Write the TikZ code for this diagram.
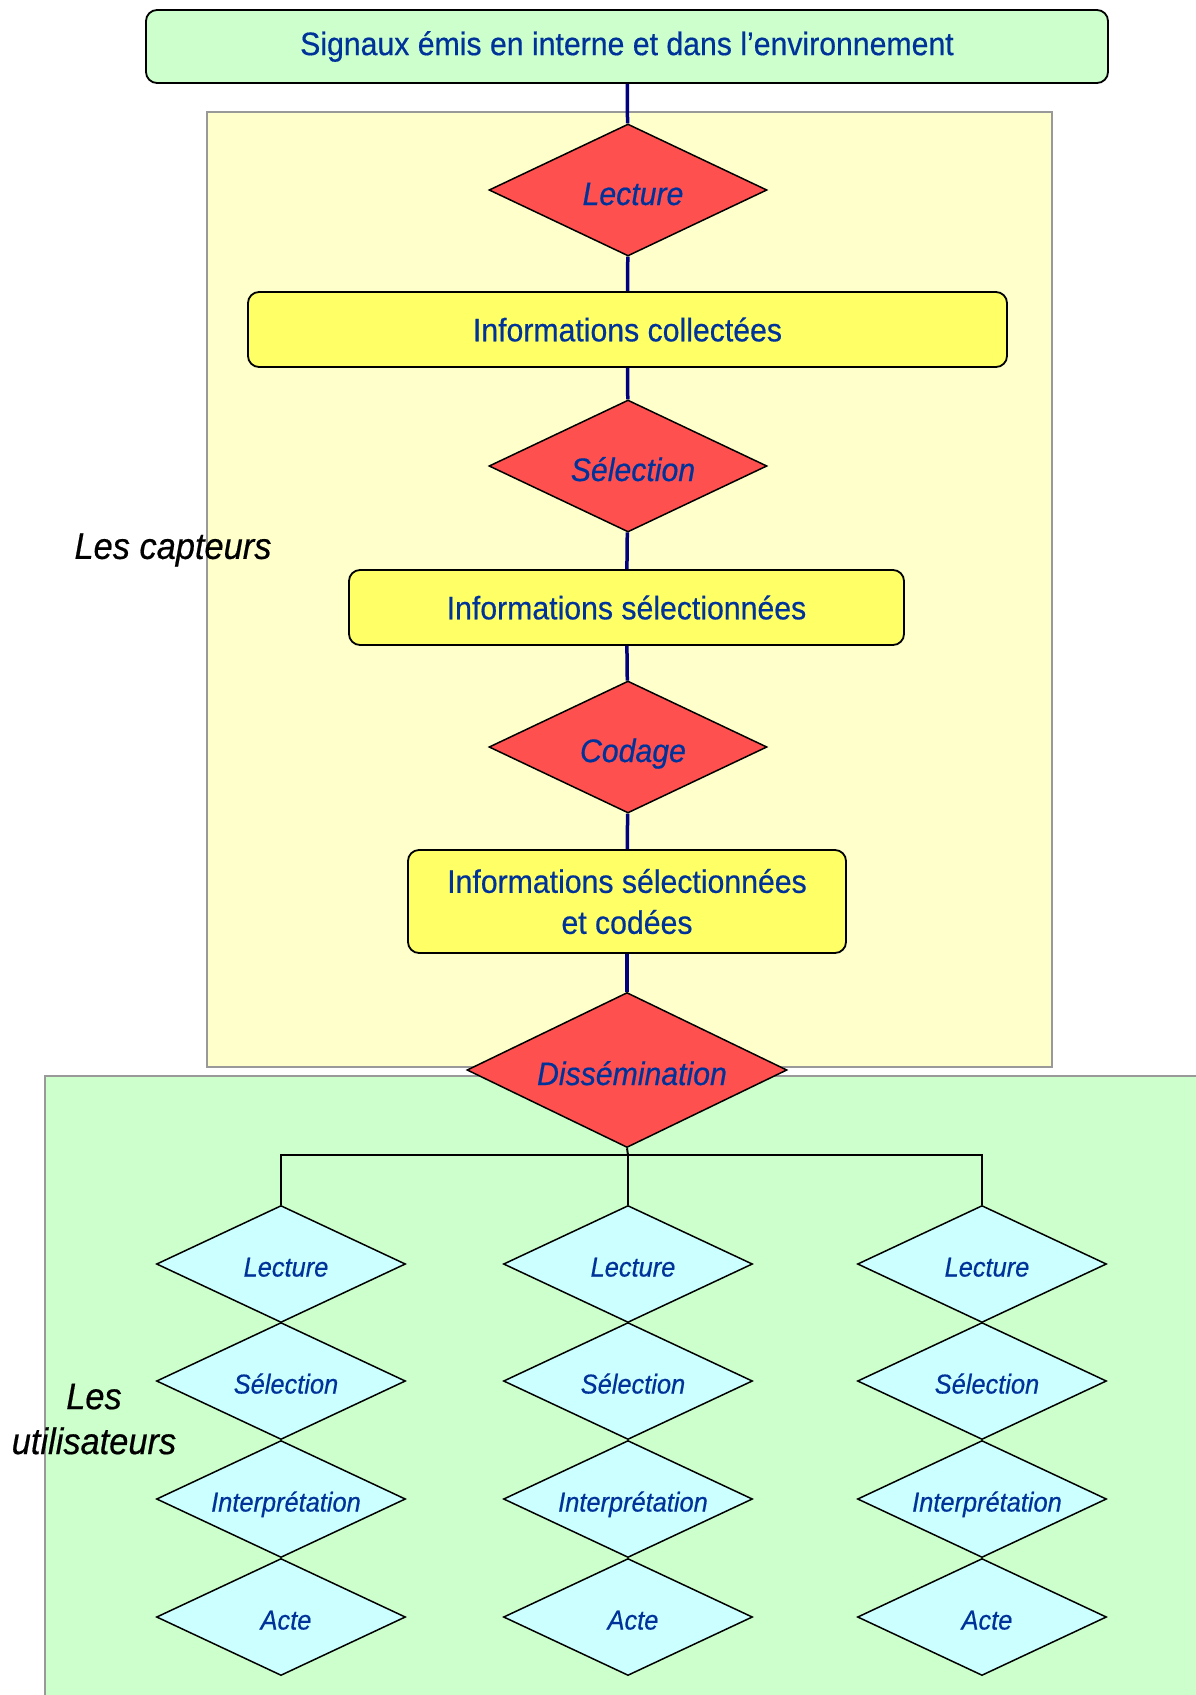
\documentclass[tikz,border=0pt]{standalone}
\usepackage{fontspec}
\setmainfont{Liberation Sans}[FakeStretch=0.93,FakeBold=0.5]
\usetikzlibrary{shapes.geometric}

\definecolor{vertpale}{RGB}{204,255,204}
\definecolor{jaunepale}{RGB}{255,255,204}
\definecolor{jaunevif}{RGB}{255,255,102}
\definecolor{rouge}{RGB}{255,80,80}
\definecolor{cyanpale}{RGB}{204,255,255}
\definecolor{bleutexte}{RGB}{0,51,153}
\definecolor{bleutrait}{RGB}{0,0,128}

\tikzset{
  panneau/.style={draw=gray!80,line width=1.5pt},
  cadre/.style={draw=black,line width=1.8pt,rounded corners=11pt,
    text=bleutexte,font=\fontsize{32.5}{41}\selectfont,align=center},
  losrouge/.style={shape=diamond,shape aspect=2.1,draw=black,line width=1.5pt,
    fill=rouge,inner sep=0pt,text height=34pt,text depth=4pt,
    text=bleutexte,font=\fontsize{32.5}{36}\selectfont\itshape,
    execute at begin node={\hspace*{10pt}}},
  petitlos/.style={shape=diamond,shape aspect=2.1,draw=black,line width=1.5pt,
    fill=cyanpale,inner sep=0pt,minimum width=249pt,minimum height=117pt,
    text height=28pt,text depth=3pt,
    text=bleutexte,font=\fontsize{27.3}{30}\selectfont\itshape,
    execute at begin node={\hspace*{10pt}}},
  liennavy/.style={draw=bleutrait,line width=3.5pt},
  liennoir/.style={draw=black,line width=2pt},
  etiquette/.style={font=\fontsize{37}{45}\selectfont\itshape,align=center}
}

\begin{document}
\begin{tikzpicture}[x=1pt,y=-1pt]
    \useasboundingbox (0,0) rectangle (1196,1695);

    % Fonds
    \fill[white] (0,0) rectangle (1196,1695);
    \draw[panneau,fill=jaunepale] (207,112) rectangle (1052,1067);
    \draw[panneau,fill=vertpale] (45,1076) rectangle (1210,1710);

    % Les capteurs
    \node[cadre,fill=vertpale,minimum width=962pt,minimum height=73pt] (signaux) at (627,46.5)
        {Signaux émis en interne et dans l'environnement};
    \node[losrouge,minimum width=278pt,minimum height=132pt] (lecture) at (628,190) {Lecture};
    \node[cadre,fill=jaunevif,minimum width=759pt,minimum height=75pt] (collectees) at (627.5,329.5)
        {Informations collectées};
    \node[losrouge,minimum width=278pt,minimum height=132pt] (selection) at (628,466) {Sélection};
    \node[cadre,fill=jaunevif,minimum width=555pt,minimum height=75pt] (selectionnees) at (626.5,607.5)
        {Informations sélectionnées};
    \node[losrouge,minimum width=278pt,minimum height=132pt] (codage) at (628,747) {Codage};
    \node[cadre,fill=jaunevif,minimum width=438pt,minimum height=103pt] (codees) at (627,901.5)
        {Informations sélectionnées\\et codées};
    \node[losrouge,minimum width=320pt,minimum height=155pt] (dissemination) at (627,1070) {Dissémination};

    \draw[liennavy] (signaux) -- (lecture);
    \draw[liennavy] (lecture) -- (collectees);
    \draw[liennavy] (collectees) -- (selection);
    \draw[liennavy] (selection) -- (selectionnees);
    \draw[liennavy] (selectionnees) -- (codage);
    \draw[liennavy] (codage) -- (codees);
    \draw[liennavy] (codees) -- (dissemination);

    % Les utilisateurs
    \foreach \col/\cx in {1/281,2/628,3/982}{
      \foreach \nom/\txt/\cy in {lec/Lecture/1264,sel/Sélection/1381,int/Interprétation/1499,act/Acte/1617}{
        \node[petitlos] (\nom\col) at (\cx,\cy) {\txt};
      }
    }

    \coordinate (fourche) at (628,1155);
    \draw[liennoir] (dissemination.south) -- (fourche);
    \draw[liennoir] (lec1.north) |- (fourche) -| (lec3.north);
    \draw[liennoir] (fourche) -- (lec2.north);

    % Etiquettes
    \node[etiquette] (capteurs) at (173,550) {Les capteurs};
    \node[etiquette] (utilisateurs) at (94,1419) {Les\\utilisateurs};
\end{tikzpicture}
\end{document}
